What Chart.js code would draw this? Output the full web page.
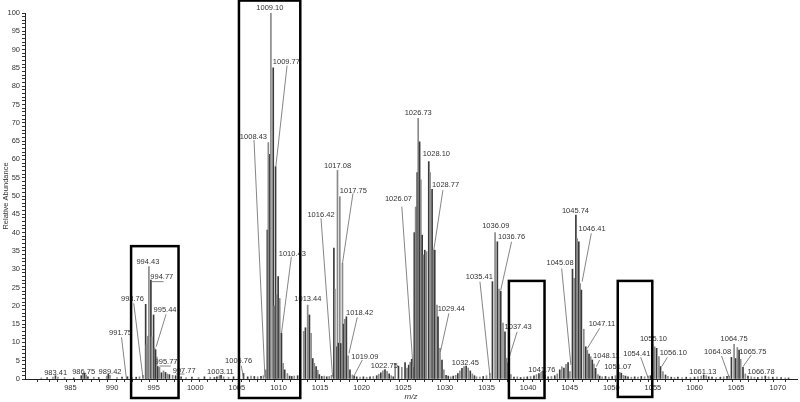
<!DOCTYPE html>
<html>
<head>
<meta charset="utf-8">
<script src="https://cdn.jsdelivr.net/npm/chart.js@4.4.1/dist/chart.umd.min.js"></script>
<style>
  html, body { margin: 0; padding: 0; background: #fff; }
  #wrap { width: 800px; height: 402px; }
</style>
</head>
<body>
<div id="wrap"><canvas id="spectrum"></canvas></div>
<script>
// peak clusters: m/z and relative abundance (%)
const mz994 = [991.85, 993.72, 994.04, 994.11, 994.35, 994.43, 994.67, 994.75, 994.99, 995.11, 995.23, 995.38, 995.50, 995.70, 995.94, 996.18, 996.42, 996.65, 996.89, 997.28, 997.64, 997.94];
const ab994 = [0.6, 1.0, 20.4, 9.3, 11.7, 30.7, 27.0, 11.5, 17.5, 8.5, 8.0, 6.0, 3.4, 3.2, 1.7, 2.2, 1.8, 1.4, 1.2, 1.0, 0.9, 0.8];

const mz1009 = [1005.80, 1008.45, 1008.66, 1008.78, 1008.97, 1009.09, 1009.37, 1009.49, 1009.65, 1009.77, 1009.96, 1010.15, 1010.36, 1010.56, 1010.75, 1011.07, 1011.34];
const ab1009 = [1.5, 2.5, 40.7, 64.6, 61.4, 100, 85.0, 20.0, 58.0, 23.0, 28.0, 22.0, 12.5, 4.3, 2.5, 1.5, 0.8];

const mz1013 = [1013.03, 1013.24, 1013.51, 1013.72, 1013.92, 1014.12, 1014.31, 1014.52, 1014.72, 1014.91];
const ab1013 = [13.0, 14.0, 20.2, 17.5, 12.5, 5.6, 4.3, 3.4, 2.4, 1.2];

const mz1017 = [1016.38, 1016.66, 1016.78, 1017.01, 1017.09, 1017.21, 1017.37, 1017.49, 1017.69, 1017.83, 1017.96, 1018.16, 1018.36, 1018.59, 1018.88, 1019.09];
const ab1017 = [1.0, 35.8, 24.6, 8.8, 57.0, 9.8, 49.8, 9.7, 31.6, 15.0, 16.3, 17.0, 6.3, 2.5, 1.1, 0.8];

const mz1027 = [1024.02, 1024.42, 1024.82, 1025.21, 1025.45, 1025.65, 1025.83, 1026.01, 1026.20, 1026.32, 1026.48, 1026.67, 1026.79, 1026.96, 1027.11, 1027.27, 1027.43, 1027.58, 1027.79, 1028.06, 1028.22, 1028.46, 1028.62, 1028.78, 1029.05, 1029.17, 1029.41, 1029.65, 1029.88, 1030.14];
const ab1027 = [4.3, 3.5, 3.2, 4.5, 3.0, 3.8, 4.6, 5.4, 3.3, 40.0, 47.0, 56.4, 71.2, 64.8, 54.4, 39.3, 33.9, 35.2, 34.8, 59.4, 56.4, 51.8, 35.2, 35.2, 20.2, 17.0, 8.4, 5.2, 2.5, 1.0];

const mz1036 = [1035.40, 1035.71, 1036.03, 1036.30, 1036.50, 1036.71, 1036.98, 1037.22, 1037.42, 1037.61, 1037.93];
const ab1036 = [1.5, 26.6, 40.0, 37.5, 24.6, 24.0, 15.3, 12.9, 5.7, 4.4, 1.2];

const mz1046 = [1043.80, 1044.05, 1044.30, 1044.55, 1044.80, 1045.02, 1045.33, 1045.53, 1045.74, 1045.89, 1046.09, 1046.25, 1046.40, 1046.69, 1046.93, 1047.12, 1047.32, 1047.52, 1047.71, 1047.91, 1048.11, 1048.39];
const ab1046 = [2.5, 3.3, 3.0, 4.0, 4.5, 2.0, 30.0, 27.5, 44.8, 38.4, 37.5, 26.1, 24.3, 13.6, 8.8, 7.9, 6.8, 6.1, 5.2, 4.1, 2.9, 1.2];

const mz1055 = [1050.80, 1051.00, 1051.20, 1051.45, 1051.70, 1054.41, 1054.93, 1055.20, 1055.44, 1055.72, 1055.91, 1056.20, 1056.51];
const ab1055 = [1.3, 1.8, 1.6, 1.0, 0.8, 0.8, 9.5, 8.8, 8.4, 6.1, 3.4, 2.0, 1.1];

const mz1065 = [1060.80, 1061.10, 1061.40, 1061.70, 1064.16, 1064.43, 1064.75, 1064.94, 1065.14, 1065.35, 1065.54, 1065.82, 1066.10, 1066.42, 1066.81];
const ab1065 = [0.8, 1.1, 0.9, 0.6, 0.8, 5.9, 9.5, 5.6, 8.6, 7.9, 5.4, 3.2, 1.4, 0.8, 0.6];

// small clusters
const mzMinor = [982.9, 983.2, 983.5, 986.3, 986.5, 986.7, 986.9, 987.1, 989.35, 989.55, 989.75, 1002.6, 1002.9, 1003.1, 1003.4, 1021.8, 1022.05, 1022.3, 1022.55, 1022.8, 1023.05, 1023.3, 1023.55, 1023.8, 1031.3, 1031.55, 1031.8, 1032.05, 1032.3, 1032.55, 1032.8, 1033.05, 1033.3, 1033.55, 1033.8, 1040.7, 1041.0, 1041.3, 1041.55, 1041.8, 1042.05];
const abMinor = [0.5, 0.9, 0.5, 0.9, 1.5, 1.6, 1.1, 0.6, 0.8, 1.3, 1.0, 0.6, 0.9, 1.0, 0.6, 0.9, 1.3, 1.7, 2.2, 2.6, 2.1, 1.4, 0.9, 0.6, 1.0, 1.5, 2.2, 2.9, 3.4, 3.5, 3.0, 2.2, 1.4, 0.9, 0.6, 0.9, 1.2, 1.5, 1.8, 2.0, 1.1];

// baseline
const mzNoise = [981.5, 982.2, 984.3, 985.4, 987.8, 988.4, 990.6, 991.2, 992.4, 992.9, 993.3, 998.3, 998.9, 999.6, 1000.4, 1001.1, 1001.8, 1002.3, 1004.0, 1004.6, 1005.2, 1006.3, 1006.7, 1007.1, 1007.5, 1007.9, 1008.2, 1011.6, 1011.9, 1012.3, 1012.6, 1015.2, 1015.5, 1015.8, 1016.1, 1019.4, 1019.8, 1020.2, 1020.6, 1021.0, 1021.4, 1030.4, 1030.7, 1031.0, 1034.2, 1034.6, 1035.0, 1038.3, 1038.7, 1039.1, 1039.5, 1039.9, 1040.3, 1042.4, 1042.8, 1043.2, 1043.5, 1048.6, 1048.9, 1049.3, 1049.7, 1050.1, 1050.5, 1052.0, 1052.4, 1052.8, 1053.2, 1053.6, 1054.0, 1054.7, 1056.8, 1057.2, 1057.6, 1058.0, 1058.5, 1059.0, 1059.5, 1060.0, 1060.4, 1062.1, 1062.6, 1063.1, 1063.5, 1063.9, 1067.2, 1067.6, 1068.1, 1068.5, 1068.9, 1069.4, 1069.9, 1070.4, 1070.9, 1071.3];
const abNoise = [0.3, 0.4, 0.4, 0.3, 0.5, 0.4, 0.4, 0.5, 0.4, 0.5, 0.6, 0.6, 0.4, 0.5, 0.4, 0.6, 0.5, 0.4, 0.5, 0.6, 0.5, 0.6, 0.8, 0.7, 0.6, 0.7, 0.9, 0.7, 0.8, 0.9, 1.0, 0.7, 0.8, 0.6, 0.7, 0.6, 0.5, 0.6, 0.5, 0.6, 0.7, 0.8, 0.6, 0.8, 0.5, 0.7, 0.9, 0.5, 0.6, 0.4, 0.5, 0.6, 0.7, 0.6, 0.7, 0.9, 1.4, 0.8, 0.6, 0.7, 0.5, 0.7, 0.9, 0.6, 0.5, 0.6, 0.5, 0.7, 0.6, 0.9, 0.7, 0.5, 0.4, 0.5, 0.4, 0.5, 0.4, 0.5, 0.6, 0.5, 0.4, 0.5, 0.6, 0.7, 0.5, 0.4, 0.6, 0.8, 0.6, 0.5, 0.5, 0.4, 0.3, 0.3];

// peak labels (text), where they sit (m/z, abundance) and their leader lines
const peakLabels = ['983.41','986.75','989.42','991.75','993.76','994.43','994.77','995.44','995.77','997.77','1003.11','1005.76','1008.43','1009.10','1009.77','1010.43','1013.44','1016.42','1017.08','1017.75','1018.42','1019.09','1022.75','1026.07','1026.73','1028.10','1028.77','1029.44','1032.45','1035.41','1036.09','1036.76','1037.43','1041.76','1045.08','1045.74','1046.41','1047.11','1048.11','1051.07','1054.41','1055.10','1056.10','1061.13','1064.08','1064.75','1065.75','1066.78'];
const labelAnchors = [[983.22,1.56],[986.59,2.0],[989.76,1.83],[991.02,12.65],[992.45,21.78],[994.31,31.89],[995.98,27.95],[996.37,18.85],[996.49,4.56],[998.67,2.27],[1003.02,1.83],[1005.21,5.0],[1006.99,66.2],[1008.97,101.3],[1010.95,86.7],[1011.66,34.3],[1013.53,21.78],[1015.11,44.8],[1017.10,58.3],[1019.00,51.4],[1019.75,17.95],[1020.38,6.09],[1022.72,3.63],[1024.42,49.2],[1026.79,72.6],[1028.98,61.4],[1030.09,53.0],[1030.76,19.1],[1032.46,4.45],[1034.13,27.8],[1036.11,41.9],[1038.01,38.7],[1038.80,14.1],[1041.65,2.46],[1043.84,31.6],[1045.69,46.0],[1047.68,41.0],[1048.87,15.0],[1049.40,6.37],[1050.77,3.2],[1053.06,6.83],[1055.06,10.85],[1057.44,7.02],[1060.99,1.83],[1062.77,7.46],[1064.75,10.85],[1067.01,7.46],[1068.0,1.99]];
const leaderLines = [null, null, null,
  [991.14,11.39,991.73,0], [992.61,20.68,993.72,0.19], null,
  [994.70,26.6,996.2,26.6], [996.49,17.68,995.30,8.83], [995.70,3.55,997.05,3.55], [997.68,1.37,998.71,1.37],
  null, [1005.52,3.63,1005.80,0.46], [1007.06,65.3,1008.37,0.63], null,
  [1011.03,85.6,1009.68,58.0], [1011.55,33.4,1010.36,12.5], null,
  [1015.11,43.9,1016.50,0.63], null, [1018.95,50.7,1017.69,31.6], [1019.47,16.86,1018.47,7.02], [1020.07,5.19,1019.07,0.82],
  null, [1024.82,47.1,1026.16,3.55], null, null, [1029.76,51.6,1028.66,35.2], [1030.48,17.95,1029.46,7.46],
  null, [1034.21,26.6,1035.40,1.09], null, [1038.01,37.5,1036.71,24.3], [1038.68,12.9,1037.69,5.66],
  null, [1044.03,30.2,1045.14,3.83], null, [1047.59,39.8,1046.49,26.6], [1048.59,13.85,1047.12,8.39], [1048.59,5.19,1048.19,3.36],
  null, [1053.53,5.93,1054.41,0.36], null, [1056.73,5.93,1056.05,3.36], null,
  [1063.25,6.28,1064.16,0.46], null, [1066.81,6.56,1065.82,3.36], null];

// highlight boxes: [m/z left, top, m/z right, bottom]
const boxes = [[992.29,36.3,997.99,-5.19],[1005.25,103.4,1012.62,-5.19],[1037.69,26.8,1041.97,-5.19],[1050.77,26.8,1054.92,-4.9]];

function zip(mz, ab) {
  return mz.map((m, i) => ({x: m, y: ab[i]}));
}

const peaks = [].concat(
  zip(mzNoise, abNoise), zip(mzMinor, abMinor),
  zip(mz994, ab994), zip(mz1009, ab1009), zip(mz1013, ab1013), zip(mz1017, ab1017),
  zip(mz1027, ab1027), zip(mz1036, ab1036), zip(mz1046, ab1046), zip(mz1055, ab1055), zip(mz1065, ab1065)
);

const labelFont = '7.5px "Liberation Sans", Arial, sans-serif';

const annotate = {
  id: 'annotate',
  afterDatasetsDraw(chart) {
    const ctx = chart.ctx;
    const x = chart.scales.x, y = chart.scales.y;
    ctx.save();
    ctx.strokeStyle = '#666';
    ctx.lineWidth = 0.8;
    leaderLines.forEach(l => {
      if (!l) return;
      ctx.beginPath();
      ctx.moveTo(x.getPixelForValue(l[0]), y.getPixelForValue(l[1]));
      ctx.lineTo(x.getPixelForValue(l[2]), y.getPixelForValue(l[3]));
      ctx.stroke();
    });
    ctx.font = labelFont;
    ctx.fillStyle = '#333';
    ctx.textAlign = 'center';
    ctx.textBaseline = 'middle';
    peakLabels.forEach((t, i) => {
      ctx.fillText(t, x.getPixelForValue(labelAnchors[i][0]), y.getPixelForValue(labelAnchors[i][1]));
    });
    ctx.strokeStyle = '#000';
    ctx.lineWidth = 2.5;
    boxes.forEach(b => {
      const x1 = x.getPixelForValue(b[0]), y1 = y.getPixelForValue(b[1]);
      const x2 = x.getPixelForValue(b[2]), y2 = y.getPixelForValue(b[3]);
      ctx.strokeRect(x1, y1, x2 - x1, y2 - y1);
    });
    ctx.restore();
  }
};

const tickFont = {family: '"Liberation Sans", Arial, sans-serif', size: 7.5};

new Chart(document.getElementById('spectrum'), {
  type: 'bar',
  data: {
    datasets: [{
      data: peaks,
      barThickness: 1,
      backgroundColor: (c) => c.dataIndex % 2 ? '#3a3a3a' : '#8a8a8a',
      borderWidth: 0
    }]
  },
  options: {
    responsive: true,
    maintainAspectRatio: false,
    animation: false,
    layout: {padding: {left: 0, right: 3, top: 13, bottom: 0}},
    plugins: {legend: {display: false}, tooltip: {enabled: false}},
    scales: {
      x: {
        type: 'linear',
        min: 980.05,
        max: 1071.8,
        afterFit(scale) { scale.height = 23; },
        grid: {drawOnChartArea: false, tickLength: 3, color: '#333'},
        border: {color: '#222'},
        ticks: {
          stepSize: 1,
          autoSkip: false,
          maxRotation: 0,
          padding: 1,
          font: tickFont,
          color: '#333',
          callback: (v) => Math.abs(v % 5) < 1e-6 ? String(Math.round(v)) : ''
        },
        title: {display: true, text: 'm/z', font: {family: '"Liberation Sans", Arial, sans-serif', size: 8, style: 'italic'}, color: '#333', padding: {top: 1, bottom: 0}}
      },
      y: {
        min: 0,
        max: 100,
        afterFit(scale) { scale.width = 25; },
        grid: {drawOnChartArea: false, tickLength: 3, color: '#333'},
        border: {color: '#222'},
        ticks: {
          stepSize: 1,
          autoSkip: false,
          padding: 2,
          font: tickFont,
          color: '#333',
          callback: (v) => v % 5 === 0 ? String(v) : ''
        },
        title: {display: true, text: 'Relative Abundance', font: {family: '"Liberation Sans", Arial, sans-serif', size: 7.5}, color: '#333', padding: {top: 1, bottom: 0}}
      }
    }
  },
  plugins: [annotate]
});
</script>
</body>
</html>
